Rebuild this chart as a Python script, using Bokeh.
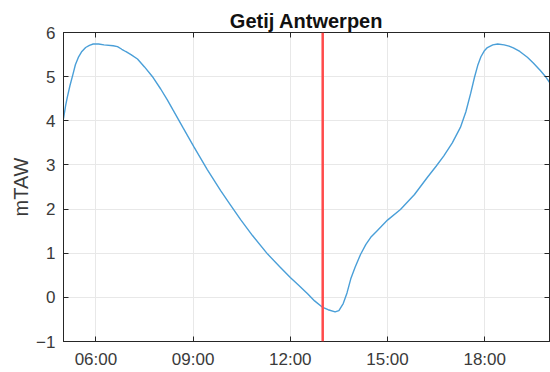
from bokeh.plotting import figure
from bokeh.models import FixedTicker, Span, LinearAxis, Range1d
from bokeh.embed import file_html
from bokeh.resources import INLINE

# ---- data ----
times = ["05:00", "05:04", "05:07", "05:12", "05:17", "05:22", "05:28", "05:34",
         "05:41", "05:48", "05:55", "06:05", "06:15", "06:32", "06:40", "06:48",
         "06:55", "07:05", "07:17", "07:30", "07:46", "08:00", "08:12", "08:23",
         "08:41", "09:01", "09:26", "09:51", "10:10", "10:28", "10:50", "11:18",
         "11:40", "12:00", "12:15", "12:32", "12:45", "12:59", "13:10", "13:23",
         "13:30", "13:38", "13:45", "13:52", "14:00", "14:10", "14:20", "14:29",
         "14:40", "15:00", "15:24", "15:50", "16:14", "16:30", "16:44", "17:00",
         "17:15", "17:25", "17:34", "17:41", "17:47", "17:53", "17:59", "18:05",
         "18:15", "18:24", "18:36", "18:45", "18:53", "19:05", "19:19", "19:30",
         "19:43", "19:52", "20:00"]
levels = [4.05, 4.35, 4.53, 4.80, 5.03, 5.27, 5.45, 5.57,
          5.66, 5.71, 5.74, 5.74, 5.72, 5.70, 5.68, 5.62,
          5.57, 5.50, 5.40, 5.22, 4.98, 4.72, 4.48, 4.24,
          3.85, 3.42, 2.90, 2.42, 2.08, 1.76, 1.40, 0.98,
          0.70, 0.45, 0.28, 0.08, -0.08, -0.22, -0.28, -0.33,
          -0.30, -0.14, 0.10, 0.42, 0.68, 0.97, 1.20, 1.36,
          1.50, 1.75, 1.99, 2.33, 2.72, 2.97, 3.20, 3.50,
          3.85, 4.20, 4.62, 4.98, 5.25, 5.45, 5.58, 5.66,
          5.72, 5.74, 5.72, 5.69, 5.65, 5.57, 5.44, 5.31,
          5.14, 5.01, 4.87]
x_tick_labels = ["06:00", "09:00", "12:00", "15:00", "18:00"]
y_ticks = [-1, 0, 1, 2, 3, 4, 5, 6]
marker_time = "13:00"
x_start, x_end = "05:00", "20:00"
title_text = "Getij Antwerpen"
y_label = "mTAW"


def to_h(s):
    h, m = s.split(":")
    return int(h) + int(m) / 60.0


hours = [to_h(t) for t in times]
x_ticks = [to_h(t) for t in x_tick_labels]

FONT = "Liberation Sans"
AX = "#262626"
TXT = "#3a3a3a"
GRID = "#e8e8e8"

p = figure(width=550, height=372, output_backend="svg", toolbar_location=None,
           x_range=Range1d(to_h(x_start), to_h(x_end)), y_range=Range1d(min(y_ticks), max(y_ticks)),
           min_border_left=63, min_border_right=1, min_border_top=32, min_border_bottom=31,
           title=title_text)
p.background_fill_color = "white"
p.border_fill_color = "white"
p.outline_line_color = AX
p.outline_line_width = 1

p.title.align = "center"
p.title.text_font = FONT
p.title.text_font_size = "20px"
p.title.text_font_style = "bold"
p.title.text_color = "#111111"
p.title.standoff = 2
p.title.offset = 0

p.line(hours, levels, line_color="#4a9fd8", line_width=1.4)
p.add_layout(Span(location=to_h(marker_time), dimension="height",
                  line_color="#ff4a4a", line_width=2.5))

xa = p.xaxis[0]
xa.ticker = FixedTicker(ticks=x_ticks)
xa.major_label_overrides = {x: lab for x, lab in zip(x_ticks, x_tick_labels)}
ya = p.yaxis[0]
ya.ticker = FixedTicker(ticks=y_ticks)
ya.axis_label = y_label
ya.axis_label_text_font = FONT
ya.axis_label_text_font_size = "20px"
ya.axis_label_text_font_style = "normal"
ya.axis_label_text_color = TXT
ya.axis_label_standoff = 1

for ax in (xa, ya):
    ax.major_label_text_font = FONT
    ax.major_label_text_font_size = "17px"
    ax.major_label_text_color = TXT
    ax.major_tick_in = 5
    ax.major_tick_out = 0
    ax.minor_tick_line_color = None
    ax.axis_line_color = AX
    ax.major_tick_line_color = AX
    ax.major_label_standoff = 8

# box ticks on top and right
top = LinearAxis(ticker=FixedTicker(ticks=x_ticks), major_label_text_font_size="0px",
                 major_tick_in=5, major_tick_out=0, minor_tick_line_color=None,
                 axis_line_color=AX, major_tick_line_color=AX, major_label_standoff=0)
top.major_label_overrides = {x: "" for x in x_ticks}
right = LinearAxis(ticker=FixedTicker(ticks=y_ticks), major_label_text_font_size="0px",
                   major_tick_in=5, major_tick_out=0, minor_tick_line_color=None,
                   axis_line_color=AX, major_tick_line_color=AX, major_label_standoff=0)
right.major_label_overrides = {y: "" for y in y_ticks}
p.add_layout(top, "above")
p.add_layout(right, "right")

p.xgrid.ticker = FixedTicker(ticks=x_ticks)
p.ygrid.ticker = FixedTicker(ticks=y_ticks)
p.grid.grid_line_color = GRID
p.grid.grid_line_width = 1

open("out.html", "w").write(file_html(p, INLINE))
